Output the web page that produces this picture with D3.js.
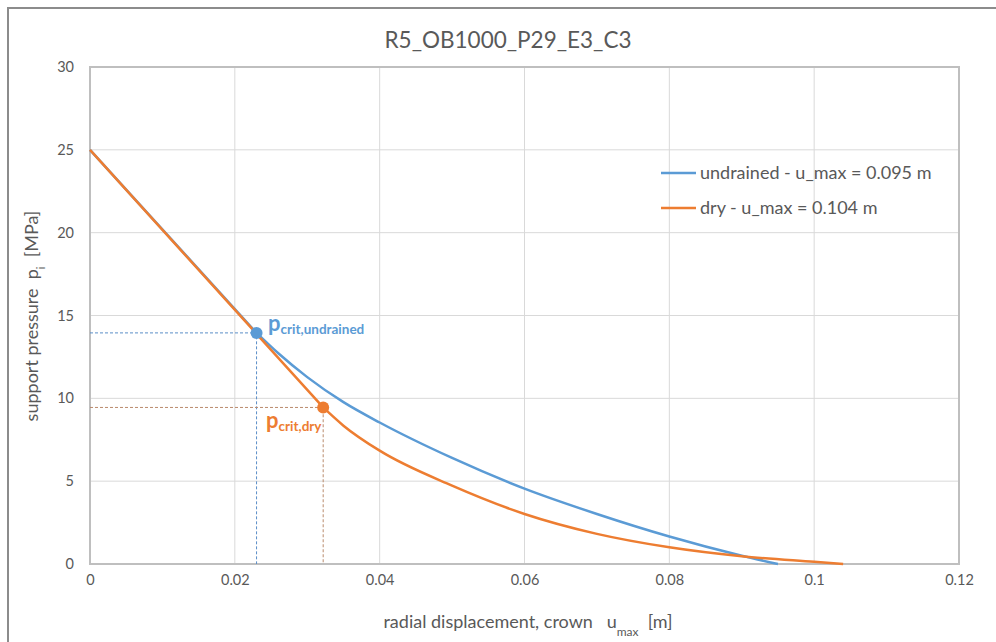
<!DOCTYPE html>
<html>
<head>
<meta charset="utf-8">
<script src="https://cdn.jsdelivr.net/npm/d3@7"></script>
<style>
  body { margin: 0; background: #fff; }
  svg text { font-family: Lato, "Open Sans", sans-serif; fill: #595959; }
</style>
</head>
<body>
<svg width="996" height="642"></svg>
<script>
// values
var chartTitle = "R5_OB1000_P29_E3_C3";

var xTicks = [0, 0.02, 0.04, 0.06, 0.08, 0.1, 0.12];
var yTicks = [0, 5, 10, 15, 20, 25, 30];

// undrained curve (u [m], p [MPa]) - elastic line up to p_crit, then plastic branch
var undrainedU = [0, 0.023, 0.026, 0.03, 0.035, 0.04, 0.05, 0.06, 0.07, 0.08, 0.09, 0.095];
var undrainedP = [25, 13.95, 12.72, 11.28, 9.77, 8.54, 6.4, 4.55, 3.02, 1.66, 0.5, 0];

// dry curve
var dryU = [0, 0.0322, 0.035, 0.04, 0.05, 0.06, 0.07, 0.08, 0.09, 0.1, 0.104];
var dryP = [25, 9.45, 8.35, 6.84, 4.73, 3.02, 1.82, 1.01, 0.47, 0.13, 0];

// critical points (index into each series)
var critIndex = [1, 1];
var critSub = ["crit,undrained", "crit,dry"];

var legendLabels = ["undrained - u_max = 0.095 m", "dry - u_max = 0.104 m"];
var colors = ["#5B9BD5", "#ED7D31"];
var dashColors = ["#5b8ec8", "#b98a6c"];

var svg = d3.select("svg");

var x = d3.scaleLinear().domain([0, 0.12]).range([90, 959]);
var y = d3.scaleLinear().domain([0, 30]).range([564, 67]);

var series = [d3.zip(undrainedU, undrainedP), d3.zip(dryU, dryP)];
var crit = series.map(function(s, i) { return s[critIndex[i]]; });

// outer frame
svg.append("path")
    .attr("d", "M8,642 L8,8 L996,8")
    .attr("fill", "none")
    .attr("stroke", "#8c8c8c")
    .attr("stroke-width", 2);

// title
svg.append("text")
    .attr("x", 508)
    .attr("y", 48)
    .attr("text-anchor", "middle")
    .style("font-size", "22.5px")
    .text(chartTitle);

// gridlines
svg.append("g")
  .selectAll("line")
  .data(xTicks)
  .enter().append("line")
    .attr("x1", function(d) { return x(d); })
    .attr("x2", function(d) { return x(d); })
    .attr("y1", y(0))
    .attr("y2", y(30))
    .attr("stroke", "#d9d9d9")
    .attr("stroke-width", 1);

svg.append("g")
  .selectAll("line")
  .data(yTicks)
  .enter().append("line")
    .attr("x1", x(0))
    .attr("x2", x(0.12))
    .attr("y1", function(d) { return y(d); })
    .attr("y2", function(d) { return y(d); })
    .attr("stroke", "#d9d9d9")
    .attr("stroke-width", 1);

// plot border
svg.append("rect")
    .attr("x", x(0))
    .attr("y", y(30))
    .attr("width", x(0.12) - x(0))
    .attr("height", y(0) - y(30))
    .attr("fill", "none")
    .attr("stroke", "#bfbfbf")
    .attr("stroke-width", 2);

// axes (labels only)
var xAxis = svg.append("g")
    .attr("transform", "translate(0," + (y(0) + 8) + ")")
    .call(d3.axisBottom(x).tickValues(xTicks).tickSize(0)
      .tickFormat(function(d) { return String(+d.toFixed(2)); }));
var yAxis = svg.append("g")
    .attr("transform", "translate(" + (x(0) - 13) + ",0)")
    .call(d3.axisLeft(y).tickValues(yTicks).tickSize(0));
[xAxis, yAxis].forEach(function(a) {
  a.select(".domain").remove();
  a.selectAll("text")
    .style("font-size", "14.5px")
    .style("font-family", "Lato, 'Open Sans', sans-serif")
    .attr("fill", "#595959");
});

// axis titles
var yt = svg.append("text")
    .attr("transform", "translate(38,316) rotate(-90)")
    .attr("text-anchor", "middle")
    .attr("xml:space", "preserve")
    .style("font-size", "18px");
yt.append("tspan").text("support pressure  p");
yt.append("tspan").attr("baseline-shift", "sub").style("font-size", "11px").text("i");
yt.append("tspan").text("  [MPa]");

var xt = svg.append("text")
    .attr("x", 528)
    .attr("y", 628)
    .attr("text-anchor", "middle")
    .attr("xml:space", "preserve")
    .style("font-size", "18px");
xt.append("tspan").text("radial displacement, crown   u");
xt.append("tspan").attr("baseline-shift", "sub").style("font-size", "12px").text("max");
xt.append("tspan").text("  [m]");

// dashed guides to critical points
crit.forEach(function(c, i) {
  svg.append("path")
      .attr("d", "M" + x(0) + "," + y(c[1]) + "L" + x(c[0]) + "," + y(c[1]) +
                 "L" + x(c[0]) + "," + y(0))
      .attr("fill", "none")
      .attr("stroke", dashColors[i])
      .attr("stroke-width", 1)
      .attr("stroke-dasharray", "3,2");
});

// curves: straight elastic part, smooth plastic part
var straight = d3.line()
    .x(function(d) { return x(d[0]); })
    .y(function(d) { return y(d[1]); });
var smooth = d3.line()
    .x(function(d) { return x(d[0]); })
    .y(function(d) { return y(d[1]); })
    .curve(d3.curveMonotoneX);

var curves = svg.selectAll(".curve")
  .data(series)
  .enter().append("g")
    .attr("class", "curve");

curves.append("path")
    .attr("d", function(d, i) {
      return straight(d.slice(0, critIndex[i] + 1)) + smooth(d.slice(critIndex[i])).replace(/^M[^A-Z]*/, "");
    })
    .attr("fill", "none")
    .attr("stroke", function(d, i) { return colors[i]; })
    .attr("stroke-width", 2.5)
    .attr("stroke-linejoin", "round");

// critical points
svg.append("g")
  .selectAll("circle")
  .data(crit)
  .enter().append("circle")
    .attr("cx", function(d) { return x(d[0]); })
    .attr("cy", function(d) { return y(d[1]); })
    .attr("r", 6)
    .attr("fill", function(d, i) { return colors[i]; });

// point labels
var labelPos = [[268, 331], [266, 428]];
critSub.forEach(function(s, i) {
  var t = svg.append("text")
      .attr("x", labelPos[i][0])
      .attr("y", labelPos[i][1])
      .style("font-weight", "bold")
      .style("fill", colors[i]);
  t.append("tspan").style("font-size", "22px").text("p");
  t.append("tspan").attr("dy", 3).style("font-size", "13.5px").text(s);
});

// legend
var legend = svg.selectAll(".legend")
  .data(legendLabels)
  .enter().append("g")
    .attr("class", "legend")
    .attr("transform", function(d, i) { return "translate(661," + (173 + i * 35) + ")"; });

legend.append("line")
    .attr("x1", 0)
    .attr("x2", 35)
    .attr("stroke", function(d, i) { return colors[i]; })
    .attr("stroke-width", 2.5);

legend.append("text")
    .attr("x", 39)
    .attr("dy", "0.35em")
    .style("font-size", "18px")
    .text(function(d) { return d; });
</script>
</body>
</html>
